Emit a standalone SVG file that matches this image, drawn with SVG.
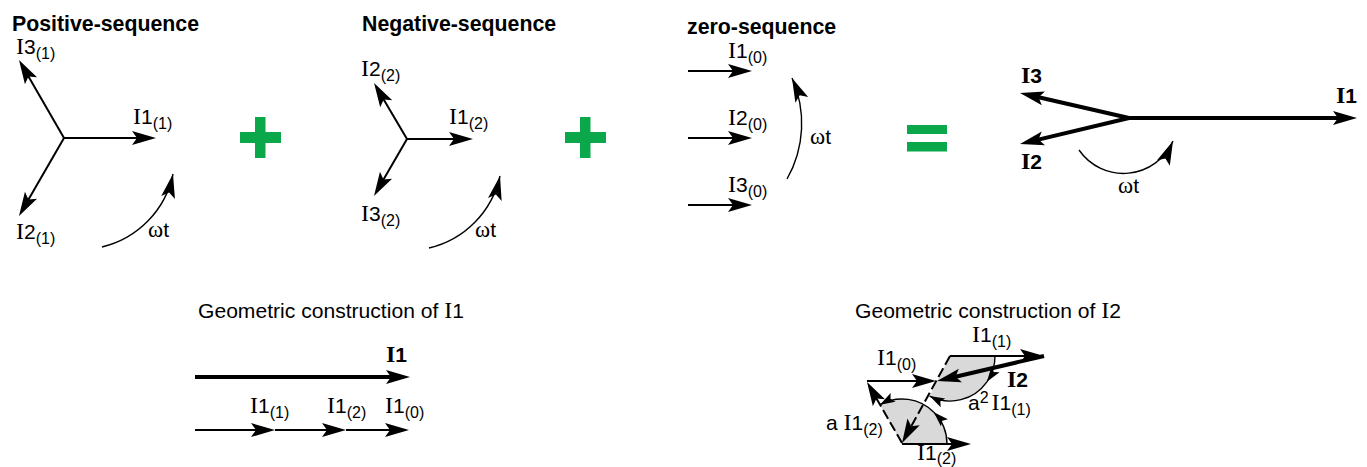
<svg xmlns="http://www.w3.org/2000/svg" width="1367" height="467" viewBox="0 0 1367 467">
<style>
text{font-family:"Liberation Sans",Arial,sans-serif;fill:#000}
.h{font-weight:bold;font-size:21.3px}
.m{font-size:21.100px}
.i{font-family:"Liberation Serif","Times New Roman",serif;font-size:24px}
.n{font-size:21px}
.s{font-size:16px}
.b{font-weight:bold;font-size:21px}
.bi{font-family:"Liberation Serif","Times New Roman",serif;font-weight:bold;font-size:24px}
.w{font-family:"Liberation Serif","Times New Roman",serif;font-size:23px}
.l{fill:none;stroke:#000}
.t1{stroke-width:1.4}
.t2{stroke-width:2}
.t4{stroke-width:4}
.g{fill:#0aa84a}
.sec{fill:#d9d9d9;stroke:none}
.d{stroke-dasharray:10 4}
</style>
<defs>
<marker id="h" markerUnits="userSpaceOnUse" markerWidth="26" markerHeight="16" refX="16" refY="7" orient="auto" overflow="visible"><path d="M0 0L24 7L0 14L5 7Z"/></marker>
<marker id="a" markerUnits="userSpaceOnUse" markerWidth="26" markerHeight="16" refX="24" refY="7" orient="auto" overflow="visible"><path d="M0 0L24 7L0 14L5 7Z"/></marker>
<marker id="sm" markerUnits="userSpaceOnUse" markerWidth="16" markerHeight="11" refX="15" refY="5" orient="auto" overflow="visible"><path d="M0 0L15 5L0 10L3 5Z"/></marker>
</defs>
<g id="connectors">
<path class="l t2" marker-end="url(#h)" d="M64 138H148"/>
<path class="l t2" marker-end="url(#h)" d="M64 138L23 66.9"/>
<path class="l t2" marker-end="url(#h)" d="M64 138L23 209.1"/>
<path class="l t1" marker-end="url(#a)" d="M102 247A95 95 0 0 0 173 174"/>
<path class="l t2" marker-end="url(#h)" d="M407 139H465"/>
<path class="l t2" marker-end="url(#h)" d="M407 139L378.1 89.9"/>
<path class="l t2" marker-end="url(#h)" d="M407 139L378 189.1"/>
<path class="l t1" marker-end="url(#a)" d="M429 248A95 95 0 0 0 500 176"/>
<path class="l t2" marker-end="url(#h)" d="M688 71H744"/>
<path class="l t2" marker-end="url(#h)" d="M688 138H744"/>
<path class="l t2" marker-end="url(#h)" d="M688 205H744"/>
<path class="l t1" marker-end="url(#a)" d="M787 179A112 112 0 0 0 792 78"/>
<path class="l t4" marker-end="url(#h)" d="M1129 118H1349"/>
<path class="l t4" marker-end="url(#h)" d="M1129 118L1027.8 94.8"/>
<path class="l t4" marker-end="url(#h)" d="M1129 118L1027.8 142.1"/>
<path class="l t1" marker-end="url(#a)" d="M1079 150A54 54 0 0 0 1173 141"/>
<path class="l t4" marker-end="url(#h)" d="M195 377H402"/>
<path class="l t2" marker-end="url(#h)" d="M195 430H267"/>
<path class="l t2" marker-end="url(#h)" d="M275 430H338"/>
<path class="l t2" marker-end="url(#h)" d="M346 430H401"/>
</g>
<g id="plus1"><rect class="g" x="255" y="117" width="10.500" height="41"/><rect class="g" x="240" y="132" width="41" height="11"/></g>
<g id="plus2"><rect class="g" x="580" y="117" width="10.500" height="41"/><rect class="g" x="565" y="132" width="41" height="11"/></g>
<g id="equals"><rect class="g" x="907" y="125" width="40" height="9"/><rect class="g" x="907" y="142" width="40" height="9.500"/></g>
<g id="positive">
<text class="h" x="12" y="31">Positive-sequence</text>
<text x="16" y="54"><tspan class="i">I</tspan><tspan class="n">3</tspan><tspan class="s" dy="5">(1)</tspan></text>
<text x="133" y="124"><tspan class="i">I</tspan><tspan class="n">1</tspan><tspan class="s" dy="5">(1)</tspan></text>
<text x="16" y="238.500"><tspan class="i">I</tspan><tspan class="n">2</tspan><tspan class="s" dy="5">(1)</tspan></text>
<text x="148" y="237"><tspan class="w">ω</tspan><tspan class="n">t</tspan></text>
</g>
<g id="negative">
<text class="h" x="362" y="31">Negative-sequence</text>
<text x="361" y="76"><tspan class="i">I</tspan><tspan class="n">2</tspan><tspan class="s" dy="5">(2)</tspan></text>
<text x="449" y="124"><tspan class="i">I</tspan><tspan class="n">1</tspan><tspan class="s" dy="5">(2)</tspan></text>
<text x="361" y="220.500"><tspan class="i">I</tspan><tspan class="n">3</tspan><tspan class="s" dy="5">(2)</tspan></text>
<text x="475" y="237"><tspan class="w">ω</tspan><tspan class="n">t</tspan></text>
</g>
<g id="zero">
<text class="h" x="687" y="34">zero-sequence</text>
<text x="728" y="58"><tspan class="i">I</tspan><tspan class="n">1</tspan><tspan class="s" dy="5">(0)</tspan></text>
<text x="728" y="125"><tspan class="i">I</tspan><tspan class="n">2</tspan><tspan class="s" dy="5">(0)</tspan></text>
<text x="728" y="192"><tspan class="i">I</tspan><tspan class="n">3</tspan><tspan class="s" dy="5">(0)</tspan></text>
<text x="810" y="144"><tspan class="w">ω</tspan><tspan class="n">t</tspan></text>
</g>
<g id="result">
<text x="1021" y="83"><tspan class="bi">I</tspan><tspan class="b">3</tspan></text>
<text x="1336" y="103"><tspan class="bi">I</tspan><tspan class="b">1</tspan></text>
<text x="1021" y="169"><tspan class="bi">I</tspan><tspan class="b">2</tspan></text>
<text x="1118" y="193"><tspan class="w">ω</tspan><tspan class="n">t</tspan></text>
</g>
<g id="geometric-i1">
<text class="m" x="198" y="318">Geometric construction of <tspan class="i">I</tspan>1</text>
<text x="386" y="362"><tspan class="bi">I</tspan><tspan class="b">1</tspan></text>
<text x="250" y="413"><tspan class="i">I</tspan><tspan class="n">1</tspan><tspan class="s" dy="5">(1)</tspan></text>
<text x="327" y="413"><tspan class="i">I</tspan><tspan class="n">1</tspan><tspan class="s" dy="5">(2)</tspan></text>
<text x="385" y="413"><tspan class="i">I</tspan><tspan class="n">1</tspan><tspan class="s" dy="5">(0)</tspan></text>
</g>
<g id="geometric-i2">
<path class="sec" d="M950 356H995A45 45 0 0 1 929.600 396.100Z"/>
<path class="sec" d="M902 444H947A45 45 0 0 0 880 404.700Z"/>
<path class="l t1" marker-end="url(#sm)" d="M995 356A45 45 0 0 1 986.900 381.800"/>
<path class="l t1" marker-end="url(#sm)" d="M986.900 381.800A45 45 0 0 1 929.600 396.100"/>
<path class="l t1" marker-end="url(#sm)" d="M947 444A45 45 0 0 0 933.800 412.200"/>
<path class="l t1" marker-end="url(#sm)" d="M933.800 412.200A45 45 0 0 0 880 404.700"/>
<path class="l t2" marker-end="url(#h)" d="M950 356H1036"/>
<path class="l t2" marker-end="url(#h)" d="M867 381H928"/>
<path class="l t2" marker-end="url(#h)" d="M902 444H963"/>
<path class="l t2 d" marker-end="url(#h)" d="M950 356L905.900 436"/>
<path class="l t2 d" marker-end="url(#h)" d="M902 443L871 388.900"/>
<path class="l t4" marker-end="url(#h)" d="M1044 356L944.800 379.200"/>
<text class="m" x="855" y="318">Geometric construction of <tspan class="i">I</tspan>2</text>
<text x="972" y="342"><tspan class="i">I</tspan><tspan class="n">1</tspan><tspan class="s" dy="5">(1)</tspan></text>
<text x="877" y="365"><tspan class="i">I</tspan><tspan class="n">1</tspan><tspan class="s" dy="5">(0)</tspan></text>
<text x="1007" y="387"><tspan class="bi">I</tspan><tspan class="b">2</tspan></text>
<text x="968" y="410"><tspan class="n">a</tspan><tspan class="s" dy="-7">2</tspan><tspan class="i" dy="7" dx="3">I</tspan><tspan class="n">1</tspan><tspan class="s" dy="5">(1)</tspan></text>
<text x="826" y="430"><tspan class="n">a </tspan><tspan class="i">I</tspan><tspan class="n">1</tspan><tspan class="s" dy="5">(2)</tspan></text>
<text x="917" y="460"><tspan class="i">I</tspan><tspan class="n">1</tspan><tspan class="s" dy="4">(2)</tspan></text>
</g>
</svg>
